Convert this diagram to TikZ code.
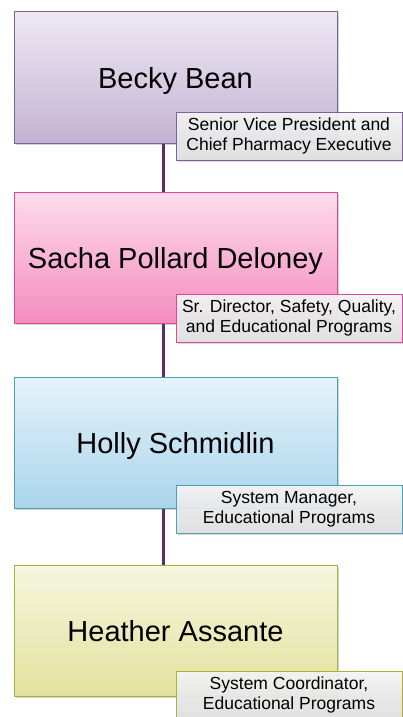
\documentclass[tikz,border=0pt]{standalone}
\usepackage{fontspec}
\setmainfont{Liberation Sans}
\usetikzlibrary{shadows}
\definecolor{pTop}{HTML}{EEE8F3}\definecolor{pBot}{HTML}{C3B3D3}\definecolor{pBrd}{HTML}{7D60A0}
\definecolor{kTop}{HTML}{FDDCEB}\definecolor{kBot}{HTML}{F48CBE}\definecolor{kBrd}{HTML}{DC4898}
\definecolor{bTop}{HTML}{E6F2FA}\definecolor{bBot}{HTML}{A9D5EC}\definecolor{bBrd}{HTML}{4B9FBD}
\definecolor{yTop}{HTML}{F6F6E0}\definecolor{yBot}{HTML}{E2E29C}\definecolor{yBrd}{HTML}{B0AF3C}
\definecolor{lTop}{HTML}{F6F6F6}\definecolor{lBot}{HTML}{E0E0E0}
\definecolor{linkc}{HTML}{5A2D6E}
\tikzset{
  namebox/.style args={#1/#2/#3}{draw=#3, line width=1pt, top color=#1, bottom color=#2,
     minimum width=323pt, minimum height=131pt, inner sep=0pt, text depth=0pt, font=\fontsize{29}{34}\selectfont,
     drop shadow={shadow xshift=1.5pt, shadow yshift=-1.5pt, opacity=0.35}},
  rolebox/.style={draw=#1, line width=1pt, top color=lTop, bottom color=lBot, fill opacity=0.92, text opacity=1,
     minimum width=226pt, minimum height=48pt, inner sep=0pt, align=center,
     font=\fontsize{17.5}{19.5}\selectfont,
     drop shadow={shadow xshift=1.5pt, shadow yshift=-1.5pt, opacity=0.3}},
  link/.style={draw=linkc, line width=3pt}
}
\begin{document}
\begin{tikzpicture}[x=1pt,y=-1pt]
\useasboundingbox (0,0) rectangle (403,717);
\clip (0,0) rectangle (403,717);
\node[namebox=pTop/pBot/pBrd] (b1) at (175.5,77.5) {Becky Bean};
\node[namebox=kTop/kBot/kBrd] (b2) at (175.5,257.5) {Sacha Pollard Deloney};
\node[namebox=bTop/bBot/bBrd] (b3) at (175.5,443) {Holly Schmidlin};
\node[namebox=yTop/yBot/yBrd] (b4) at (175.5,630.5) {Heather Assante};
\draw[link] ([xshift=-12.5pt]b1.south) -- ([xshift=-12.5pt]b2.north);
\draw[link] ([xshift=-12.5pt]b2.south) -- ([xshift=-12.5pt]b3.north);
\draw[link] ([xshift=-12.5pt]b3.south) -- ([xshift=-12.5pt]b4.north);
\node[rolebox=pBrd] (r1) at (289,136) {Senior Vice President and\\Chief Pharmacy Executive};
\node[rolebox=kBrd] (r2) at (289,318) {Sr. Director, Safety, Quality,\\and Educational Programs};
\node[rolebox=bBrd] (r3) at (289,509) {System Manager,\\Educational Programs};
\node[rolebox=yBrd] (r4) at (289,695) {System Coordinator,\\Educational Programs};
\end{tikzpicture}
\end{document}
